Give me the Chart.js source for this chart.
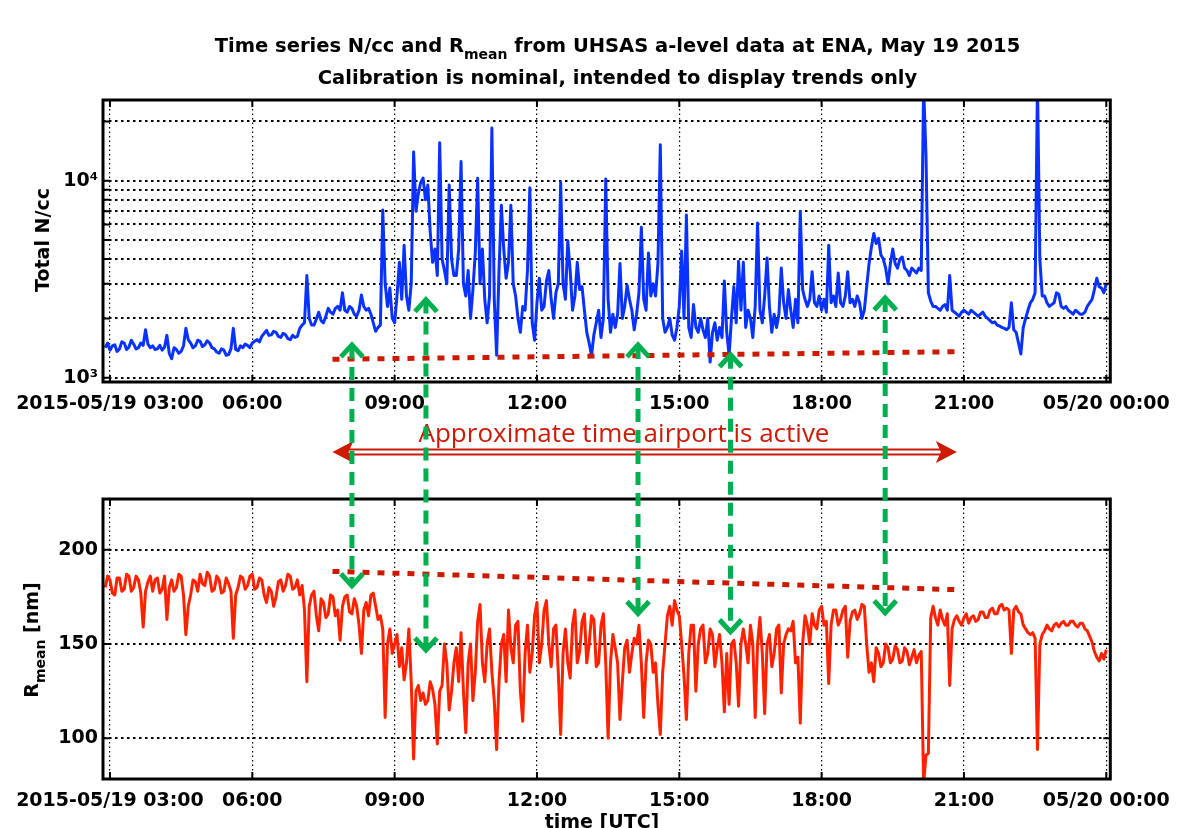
<!DOCTYPE html>
<html>
<head>
<meta charset="utf-8">
<script src="https://cdn.jsdelivr.net/npm/chart.js@4.4.1/dist/chart.umd.min.js"></script>
<style>
html,body{margin:0;padding:0;background:#fff;overflow:hidden;}
#wrap{position:relative;width:1181px;height:828px;overflow:hidden;background:#fff;font-family:"DejaVu Sans",Verdana,sans-serif;font-weight:bold;color:#000;}
canvas{position:absolute;left:0;}
#cTop{top:0;}
#cBot{top:420px;}
#overlay{top:0;pointer-events:none;}
.title{position:absolute;left:27px;width:1181px;text-align:center;font-size:19.5px;line-height:24px;white-space:nowrap;}
.title sub,.ylab sub{font-size:14px;vertical-align:-7px;line-height:0;}
.ylab{position:absolute;width:240px;height:26px;line-height:26px;text-align:center;font-size:19px;transform:rotate(-90deg);white-space:nowrap;}
.xlab{position:absolute;width:240px;text-align:center;font-size:19px;line-height:24px;white-space:nowrap;}
</style>
</head>
<body>
<div id="wrap">
  <canvas id="cTop" width="1181" height="420"></canvas>
  <canvas id="cBot" width="1181" height="420"></canvas>
  <canvas id="overlay" width="1181" height="828"></canvas>
  <div class="title" style="top:34px">Time series N/cc and R<sub>mean</sub> from UHSAS a-level data at ENA, May 19 2015</div>
  <div class="title" style="top:66px">Calibration is nominal, intended to display trends only</div>
  <div class="ylab" style="left:-78px;top:227px">Total N/cc</div>
  <div class="ylab" style="left:-89px;top:627px">R<sub>mean</sub> [nm]</div>
  <div class="xlab" style="left:482px;top:809px">time [UTC]</div>
</div>
<script>
// ---- data (hours UTC, 19 May 2015) ----
const hours = [
 2.9,2.95,
 3,3.05,3.1,3.15,3.2,3.25,3.3,3.35,3.4,3.45,3.5,3.55,3.6,3.65,3.7,3.75,3.8,3.85,3.9,3.95,
 4,4.05,4.1,4.15,4.2,4.25,4.3,4.35,4.4,4.45,4.5,4.55,4.6,4.65,4.7,4.75,4.8,4.85,4.9,4.95,
 5,5.05,5.1,5.15,5.2,5.25,5.3,5.35,5.4,5.45,5.5,5.55,5.6,5.65,5.7,5.75,5.8,5.85,5.9,5.95,
 6,6.05,6.1,6.15,6.2,6.25,6.3,6.35,6.4,6.45,6.5,6.55,6.6,6.65,6.7,6.75,6.8,6.85,6.9,6.95,
 7,7.05,7.1,7.15,7.2,7.25,7.3,7.35,7.4,7.45,7.5,7.55,7.6,7.65,7.7,7.75,7.8,7.85,7.9,7.95,
 8,8.05,8.1,8.15,8.2,8.25,8.3,8.35,8.4,8.45,8.5,8.55,8.6,8.65,8.7,8.75,8.8,8.85,8.9,8.95,
 9,9.05,9.1,9.15,9.2,9.25,9.3,9.35,9.4,9.45,9.5,9.55,9.6,9.65,9.7,9.75,9.8,9.85,9.9,9.95,
 10,10.05,10.1,10.15,10.2,10.25,10.3,10.35,10.4,10.45,10.5,10.55,10.6,10.65,10.7,10.75,10.8,10.85,10.9,10.95,
 11,11.05,11.1,11.15,11.2,11.25,11.3,11.35,11.4,11.45,11.5,11.55,11.6,11.65,11.7,11.75,11.8,11.85,11.9,11.95,
 12,12.05,12.1,12.15,12.2,12.25,12.3,12.35,12.4,12.45,12.5,12.55,12.6,12.65,12.7,12.75,12.8,12.85,12.9,12.95,
 13,13.05,13.1,13.15,13.2,13.25,13.3,13.35,13.4,13.45,13.5,13.55,13.6,13.65,13.7,13.75,13.8,13.85,13.9,13.95,
 14,14.05,14.1,14.15,14.2,14.25,14.3,14.35,14.4,14.45,14.5,14.55,14.6,14.65,14.7,14.75,14.8,14.85,14.9,14.95,
 15,15.05,15.1,15.15,15.2,15.25,15.3,15.35,15.4,15.45,15.5,15.55,15.6,15.65,15.7,15.75,15.8,15.85,15.9,15.95,
 16,16.05,16.1,16.15,16.2,16.25,16.3,16.35,16.4,16.45,16.5,16.55,16.6,16.65,16.7,16.75,16.8,16.85,16.9,16.95,
 17,17.05,17.1,17.15,17.2,17.25,17.3,17.35,17.4,17.45,17.5,17.55,17.6,17.65,17.7,17.75,17.8,17.85,17.9,17.95,
 18,18.05,18.1,18.15,18.2,18.25,18.3,18.35,18.4,18.45,18.5,18.55,18.6,18.65,18.7,18.75,18.8,18.85,18.9,18.95,
 19,19.05,19.1,19.15,19.2,19.25,19.3,19.35,19.4,19.45,19.5,19.55,19.6,19.65,19.7,19.75,19.8,19.85,19.9,19.95,
 20,20.05,20.1,20.15,20.2,20.25,20.3,20.35,20.4,20.45,20.5,20.55,20.6,20.65,20.7,20.75,20.8,20.85,20.9,20.95,
 21,21.05,21.1,21.15,21.2,21.25,21.3,21.35,21.4,21.45,21.5,21.55,21.6,21.65,21.7,21.75,21.8,21.85,21.9,21.95,
 22,22.05,22.1,22.15,22.2,22.25,22.3,22.35,22.4,22.45,22.5,22.55,22.6,22.65,22.7,22.75,22.8,22.85,22.9,22.95,
 23,23.05,23.1,23.15,23.2,23.25,23.3,23.35,23.4,23.45,23.5,23.55,23.6,23.65,23.7,23.75,23.8,23.85,23.9,23.95,
 24
];
const nccValues = [
 1420,1500,
 1380,1450,1470,1360,1400,1520,1500,1390,1430,1550,1480,1400,1420,1500,1460,1750,1480,1420,1450,1390,
 1400,1460,1380,1430,1640,1330,1250,1420,1390,1330,1360,1450,1780,1560,1500,1420,1450,1550,1530,1440,
 1470,1540,1500,1420,1400,1350,1330,1400,1380,1300,1310,1400,1780,1390,1370,1450,1420,1480,1460,1420,
 1500,1530,1560,1520,1620,1680,1740,1640,1650,1720,1700,1620,1600,1680,1650,1580,1560,1640,1600,1620,
 1780,1850,1900,3300,2000,1850,1850,1980,2150,1950,1900,2050,2250,2150,2100,2250,2300,2200,2700,2200,
 2150,2300,2250,2100,2050,2200,2630,2300,2200,2250,2100,1900,1720,1800,1850,7100,3000,2300,2850,2000,
 1900,2600,3850,2500,4700,2600,2200,3000,14000,7000,8600,9800,10300,8000,9500,5500,3850,4500,3300,15600,
 4000,3500,3000,9500,4000,3300,3300,4500,12500,3000,2600,3500,2000,2800,4300,10300,3000,4500,2500,1900,
 2600,18500,2500,1300,3500,7500,4500,3200,3850,7500,3000,2600,2000,1700,2300,2200,3500,9200,1900,1550,
 2400,3200,2200,2300,3100,3500,2500,2000,2700,3000,9800,3000,2500,4950,3500,2200,2600,3850,2800,2900,
 2200,1700,1500,1300,1650,1900,2200,1600,2000,10200,2500,1700,2100,1800,2100,3800,2000,2300,2950,2500,
 2200,1750,2100,2700,5800,2500,2200,4300,2600,3000,2600,3800,15200,2000,1700,1800,2000,1650,1550,1800,
 2300,4400,2000,6700,1800,1600,2350,1800,1700,2000,1750,1600,2000,1200,1700,1900,1550,1800,1600,3100,
 1700,1300,2000,2900,1900,3900,2200,3850,1800,2200,2000,1600,2300,6100,2200,1900,2600,4050,2300,1700,
 2100,1800,2100,3600,2400,2000,2800,2200,1800,2500,1900,7000,2800,2500,2300,2500,3450,2400,2300,2600,
 2200,2500,2150,4700,2400,2600,2300,3400,2400,2300,2600,3450,2400,2500,2300,2600,2400,2000,2200,2900,
 3800,4600,5400,4800,5100,4200,4000,3600,3000,3800,4500,3800,3600,4000,4100,3600,3500,3300,3600,3500,
 3400,3600,3500,30000,13500,2700,2450,2300,2300,2250,2200,2300,2350,2200,3300,2200,2150,2100,2050,2150,
 2200,2150,2100,2200,2150,2100,2050,2100,2150,2050,2000,1950,1900,1920,1850,1830,1800,1780,1750,1800,
 2400,1750,1700,1500,1320,1800,2000,2200,2400,2500,2700,32000,4000,2600,2600,2400,2300,2350,2400,2700,
 2650,2300,2250,2300,2200,2150,2100,2200,2150,2100,2100,2150,2300,2400,2500,2800,3200,2900,2850,2700,
 3000
];
const rmeanValues = [
 180,186,
 184,177,176,185,185,178,179,187,186,178,180,186,184,177,159,178,183,186,178,184,
 185,177,179,186,163,180,184,178,180,187,186,176,155,170,176,184,183,178,187,182,
 181,188,186,178,179,186,184,177,178,185,182,178,153,176,180,186,185,179,181,186,
 187,179,180,185,184,176,172,180,178,170,175,183,184,178,181,187,186,179,180,184,
 176,181,168,130,170,176,178,165,157,174,172,164,166,176,175,165,168,152,170,175,
 176,167,166,174,170,160,145,168,172,165,176,177,170,163,165,158,111,150,158,145,
 150,155,138,148,131,140,158,130,89,125,128,120,124,118,120,130,126,118,97,125,
 128,150,140,115,125,140,148,130,156,125,103,140,150,120,135,162,171,140,130,150,
 158,135,120,94,130,150,155,130,168,148,140,160,162,125,109,145,160,135,145,165,
 172,140,150,168,173,150,138,158,160,135,102,145,158,140,132,160,168,140,146,162,
 166,140,150,165,163,138,140,160,166,140,100,140,155,148,140,110,130,148,152,135,
 145,153,150,160,140,111,140,152,150,135,140,118,102,135,150,165,170,160,173,168,
 165,150,133,110,145,160,160,125,150,158,160,140,145,158,155,138,148,155,140,114,
 145,118,150,152,140,117,150,158,150,140,160,150,111,150,164,145,113,150,155,138,
 145,158,160,124,150,155,158,157,162,140,143,108,150,165,160,150,166,160,158,168,
 170,160,162,129,160,168,168,160,163,168,170,143,162,167,168,163,166,171,170,150,
 135,140,130,148,145,138,140,150,148,140,142,149,147,140,141,148,146,139,143,147,
 140,144,146,76,91,92,164,170,164,160,168,163,160,166,128,158,163,165,162,160,
 164,166,161,164,165,162,163,167,167,164,164,168,169,166,166,170,171,168,169,168,
 145,168,170,167,166,160,158,156,155,156,153,94,150,155,157,160,158,157,160,161,
 159,161,162,160,160,162,162,160,159,161,161,158,157,154,151,146,143,141,145,142,
 147
];
const hourTicks = [3, 6, 9, 12, 15, 18, 21, 24];
const hourTickLabels = ['2015-05/19 03:00', '06:00', '09:00', '12:00', '15:00', '18:00', '21:00', '05/20 00:00'];
const nccTicks = [1000, 2000, 3000, 4000, 5000, 6000, 7000, 8000, 9000, 10000, 20000];
const nccTickLabels = {1000: '10³', 10000: '10⁴'};
const rmeanTicks = [100, 150, 200];
const xRange = [2.853, 24.085];
const nccRange = [951, 25680];
const rmeanRange = [78.4, 226.9];
const trendHours = [7.69, 20.85];
const nccTrend = [1240, 1355];
const rmeanTrend = [188.5, 178.8];
const arrowHours = [8.10, 9.66, 14.13, 16.08, 19.34];
const arrowNccTips = [1520, 2580, 1520, 1355, 2630];
const arrowRmeanTips = [179.3, 145.2, 164.6, 154.9, 165.0];
const airportSpan = [7.69, 20.85];
const airportLabel = 'Approximate time airport is active';

// ---- chart setup ----
Chart.defaults.font.family = '"DejaVu Sans", Verdana, sans-serif';
Chart.defaults.font.size = 19;
Chart.defaults.font.weight = 'bold';
Chart.defaults.color = '#000';

const framePlugin = {
  id: 'frame',
  afterDatasetsDraw(chart) {
    const {ctx, chartArea: a, scales} = chart;
    ctx.save();
    ctx.strokeStyle = '#000';
    ctx.lineWidth = 2;
    ctx.setLineDash([]);
    ctx.beginPath();
    scales.x.ticks.forEach(t => {
      const px = scales.x.getPixelForValue(t.value);
      ctx.moveTo(px, a.bottom); ctx.lineTo(px, a.bottom - 7);
      ctx.moveTo(px, a.top); ctx.lineTo(px, a.top + 7);
    });
    scales.y.ticks.forEach(t => {
      const py = scales.y.getPixelForValue(t.value);
      ctx.moveTo(a.left, py); ctx.lineTo(a.left + 7, py);
      ctx.moveTo(a.right, py); ctx.lineTo(a.right - 7, py);
    });
    ctx.stroke();
    ctx.lineWidth = 3;
    ctx.strokeRect(a.left, a.top, a.right - a.left, a.bottom - a.top);
    ctx.restore();
  }
};

function makeX(height) {
  return {
    type: 'linear', min: xRange[0], max: xRange[1],
    afterBuildTicks: s => { s.ticks = hourTicks.map(v => ({value: v})); },
    afterFit: s => { s.height = height; },
    ticks: {autoSkip: false, maxRotation: 0, minRotation: 0, padding: 11,
      callback: v => { const i = hourTicks.indexOf(v); return i >= 0 ? hourTickLabels[i] : ''; }},
    grid: {color: '#000', lineWidth: 1.2, drawTicks: false},
    border: {display: false, dash: [1.5, 3]}
  };
}

const pts = (xs, ys) => xs.map((x, i) => ({x: x, y: ys[i]}));

const chartTop = new Chart(document.getElementById('cTop'), {
  type: 'line',
  data: {datasets: [
    {data: pts(trendHours, nccTrend), borderColor: '#cc1a00', borderWidth: 5, borderDash: [7, 8], pointRadius: 0, order: 0},
    {data: pts(hours, nccValues), borderColor: '#0a32ff', borderWidth: 3, borderJoinStyle: 'round', pointRadius: 0, tension: 0, order: 1}
  ]},
  options: {
    animation: false, responsive: false, devicePixelRatio: 1, events: [],
    layout: {padding: {top: 100, right: 69, left: 0, bottom: 0}, autoPadding: false},
    plugins: {legend: {display: false}, tooltip: {enabled: false}, title: {display: false}},
    scales: {
      x: makeX(38),
      y: {
        type: 'logarithmic', min: nccRange[0], max: nccRange[1],
        afterBuildTicks: s => { s.ticks = nccTicks.map(v => ({value: v})); },
        afterFit: s => { s.width = 103; },
        ticks: {autoSkip: false, padding: 5, callback: v => nccTickLabels[v] || ''},
        grid: {color: '#000', lineWidth: 2, drawTicks: false},
        border: {display: false, dash: [2.5, 3.5]}
      }
    }
  },
  plugins: [framePlugin]
});

const chartBot = new Chart(document.getElementById('cBot'), {
  type: 'line',
  data: {datasets: [
    {data: pts(trendHours, rmeanTrend), borderColor: '#cc1a00', borderWidth: 5, borderDash: [7, 8], pointRadius: 0, order: 0},
    {data: pts(hours, rmeanValues), borderColor: '#ff2200', borderWidth: 3, borderJoinStyle: 'round', pointRadius: 0, tension: 0, order: 1}
  ]},
  options: {
    animation: false, responsive: false, devicePixelRatio: 1, events: [],
    layout: {padding: {top: 79, right: 69, left: 0, bottom: 0}, autoPadding: false},
    plugins: {legend: {display: false}, tooltip: {enabled: false}, title: {display: false}},
    scales: {
      x: makeX(61),
      y: {
        type: 'linear', min: rmeanRange[0], max: rmeanRange[1],
        afterBuildTicks: s => { s.ticks = rmeanTicks.map(v => ({value: v})); },
        afterFit: s => { s.width = 103; },
        ticks: {autoSkip: false, padding: 5, callback: v => String(v)},
        grid: {color: '#000', lineWidth: 2, drawTicks: false},
        border: {display: false, dash: [2.5, 3.5]}
      }
    }
  },
  plugins: [framePlugin]
});

// ---- overlay annotations (positions come from the charts' scales) ----
function drawOverlay() {
  const cv = document.getElementById('overlay');
  const ctx = cv.getContext('2d');
  const botOffset = 420;
  const xs = chartTop.scales.x;
  const yTop = chartTop.scales.y;
  const yBot = chartBot.scales.y;

  // red double-headed arrow between the panels
  const xa = xs.getPixelForValue(airportSpan[0]);
  const xb = xs.getPixelForValue(airportSpan[1]);
  const ya = 452;
  const red = '#cc1a06';
  ctx.save();
  ctx.strokeStyle = red; ctx.fillStyle = red; ctx.lineWidth = 2;
  ctx.beginPath();
  ctx.moveTo(xa + 14, ya - 2.5); ctx.lineTo(xb - 14, ya - 2.5);
  ctx.moveTo(xa + 14, ya + 2.5); ctx.lineTo(xb - 14, ya + 2.5);
  ctx.stroke();
  [[xa, 1], [xb, -1]].forEach(([tx, d]) => {
    ctx.beginPath();
    ctx.moveTo(tx, ya);
    ctx.lineTo(tx + d * 21, ya - 11);
    ctx.lineTo(tx + d * 16, ya);
    ctx.lineTo(tx + d * 21, ya + 11);
    ctx.closePath();
    ctx.fill();
  });
  ctx.font = '26px "Open Sans", "Noto Sans", sans-serif';
  ctx.textAlign = 'center'; ctx.textBaseline = 'alphabetic';
  ctx.fillText(airportLabel, 624, 442, 418);
  ctx.restore();

  // green dashed double arrows
  ctx.save();
  ctx.strokeStyle = '#00b050';
  ctx.lineWidth = 5;
  arrowHours.forEach((h, i) => {
    const x = xs.getPixelForValue(h);
    const y1 = yTop.getPixelForValue(arrowNccTips[i]);
    const y2 = botOffset + yBot.getPixelForValue(arrowRmeanTips[i]);
    ctx.setLineDash([13, 8]);
    ctx.beginPath();
    ctx.moveTo(x, y1 + 4); ctx.lineTo(x, y2 - 4);
    ctx.stroke();
    ctx.setLineDash([]);
    ctx.lineJoin = 'miter';
    ctx.beginPath();
    ctx.moveTo(x - 11, y1 + 15); ctx.lineTo(x, y1 + 3); ctx.lineTo(x + 11, y1 + 15);
    ctx.moveTo(x - 11, y2 - 15); ctx.lineTo(x, y2 - 3); ctx.lineTo(x + 11, y2 - 15);
    ctx.stroke();
  });
  ctx.restore();
}
drawOverlay();
</script>
</body>
</html>
